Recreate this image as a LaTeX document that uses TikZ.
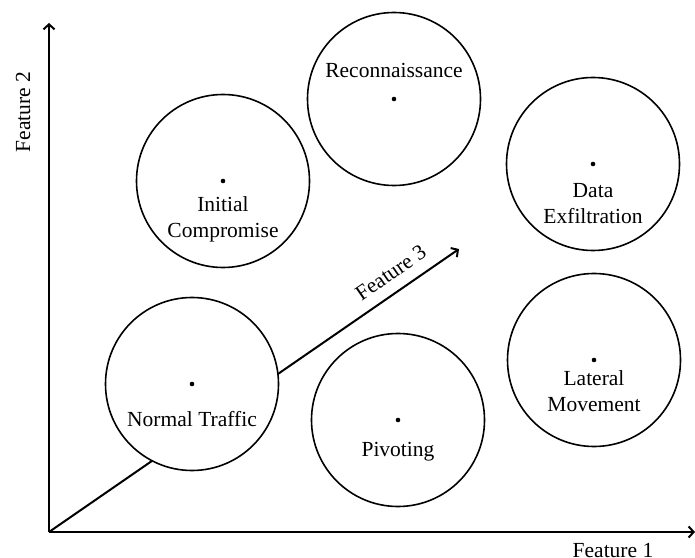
\documentclass[tikz,border=0pt]{standalone}
\usepackage{fontspec}
\setmainfont{Liberation Serif}
\usepackage{tikz}
\usetikzlibrary{arrows.meta}

\tikzset{
  cluster/.style={circle,draw,fill=white,line width=1.6pt,minimum size=173pt,inner sep=0pt},
  lbl/.style={align=center,font=\fontsize{21.5}{26}\selectfont,inner sep=0pt},
  axis/.style={line width=2pt,-{Straight Barb[length=5pt,width=11pt]}}
}

\begin{document}
\begin{tikzpicture}[x=1pt,y=1pt]
\useasboundingbox (0,0) rectangle (695,557);

\coordinate (o) at (49,25);
\coordinate (xend) at (695,25);
\coordinate (yend) at (49,534);
\coordinate (zend) at (459,308);

% third feature goes behind the clusters
\draw[axis] (o) -- (zend) node[lbl,pos=0.86,sloped,above=11pt] (zlabel) {Feature 3};

\node[cluster] (nt) at (192,173) {};
\node[cluster] (ic) at (223,376) {};
\node[cluster] (rc) at (394,458) {};
\node[cluster] (pv) at (398,137) {};
\node[cluster] (lm) at (594,197) {};
\node[cluster] (de) at (593,393) {};

\foreach \c in {nt,ic,rc,pv,lm,de}
  \fill (\c) circle (2.3);

\node[lbl] (ntlabel) at ([yshift=-35pt]nt.center) {Normal Traffic};
\node[lbl] (iclabel) at ([yshift=-38pt]ic.center) {Initial\\Compromise};
\node[lbl] (rclabel) at ([yshift=29pt]rc.center) {Reconnaissance};
\node[lbl] (pvlabel) at ([yshift=-32pt]pv.center) {Pivoting};
\node[lbl] (lmlabel) at ([yshift=-31pt]lm.center) {Lateral\\Movement};
\node[lbl] (delabel) at ([yshift=-40pt]de.center) {Data\\Exfiltration};

\draw[axis] (o) -- (xend);
\draw[axis] (o) -- (yend);

\node[lbl,anchor=base] (xlabel) at (613,0) {Feature 1};
\node[lbl,rotate=90] (ylabel) at (23,445) {Feature 2};

\end{tikzpicture}
\end{document}
